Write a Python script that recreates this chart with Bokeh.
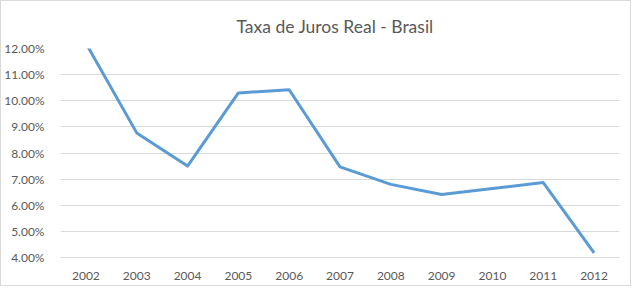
from bokeh.plotting import figure
from bokeh.models import FixedTicker, PrintfTickFormatter, Range1d
from bokeh.embed import file_html
from bokeh.resources import INLINE

years = [2002, 2003, 2004, 2005, 2006, 2007, 2008, 2009, 2010, 2011, 2012]
rates = [12.2, 8.77, 7.50, 10.30, 10.42, 7.47, 6.80, 6.41, 6.64, 6.87, 4.18]
y_ticks = [4, 5, 6, 7, 8, 9, 10, 11, 12]
title_text = "Taxa de Juros Real - Brasil"

FONT = "Lato"
GREY = "#595959"

p = figure(width=631, height=286, output_backend="svg", toolbar_location=None,
           x_range=Range1d(2001.5, 2012.5), y_range=Range1d(4, 12),
           min_border_left=54, min_border_right=13, min_border_top=0, min_border_bottom=30)
p.styles = {"border": "1px solid #d9d9d9"}
p.title.text = title_text
p.title.align = "left"
p.title.text_font = FONT
p.title.text_font_size = "17.5px"
p.title.text_font_style = "normal"
p.title.text_color = GREY
p.title.offset = 164
p.title.standoff = 24
p.title.padding = (12, 0, 0, 0)

p.outline_line_color = None
p.xgrid.grid_line_color = None
p.ygrid.grid_line_color = "#d9d9d9"
p.ygrid.grid_line_width = 1

p.xaxis.ticker = FixedTicker(ticks=years)
p.yaxis.ticker = FixedTicker(ticks=y_ticks)
p.yaxis.formatter = PrintfTickFormatter(format="%.2f%%")
for ax in (p.xaxis, p.yaxis):
    ax.major_tick_line_color = None
    ax.minor_tick_line_color = None
    ax.major_label_text_font = FONT
    ax.major_label_text_font_size = "12px"
    ax.major_label_text_color = GREY
p.yaxis.axis_line_color = None
p.xaxis.axis_line_color = "#d9d9d9"
p.xaxis.major_label_standoff = 8
p.yaxis.major_label_standoff = 10

p.line(years, rates, line_color="#5B9BD5", line_width=3, line_join="round")

open("out.html", "w").write(file_html(p, INLINE))
